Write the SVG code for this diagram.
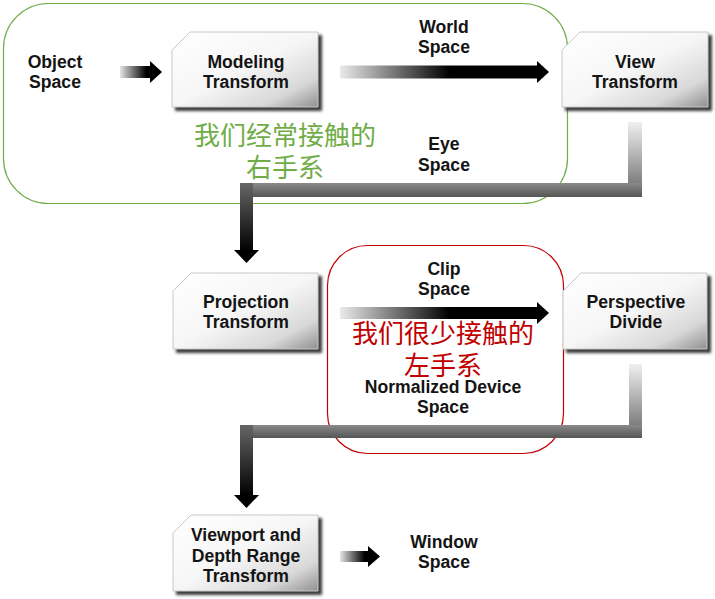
<svg xmlns="http://www.w3.org/2000/svg" width="715" height="599" viewBox="0 0 715 599">
<style>
.lbl{font-family:"Liberation Sans",Arial,sans-serif;font-weight:bold;font-size:17.6px;fill:#141414;text-anchor:middle}
.cn{font-family:"Noto Sans CJK SC",sans-serif;font-size:26px;text-anchor:middle}
.box{fill:url(#boxg);stroke:#c8c8c8;stroke-width:1}
.shadow{fill:#3a3a3a;filter:url(#blur)}
</style>
<defs>
<linearGradient id="boxg" x1="0" y1="0" x2="1" y2="1">
<stop offset="0" stop-color="#ffffff"/>
<stop offset="0.5" stop-color="#f6f6f6"/>
<stop offset="0.8" stop-color="#d8d8d8"/>
<stop offset="1" stop-color="#909090"/>
</linearGradient>
<linearGradient id="hfade" x1="0" y1="0" x2="1" y2="0">
<stop offset="0" stop-color="#000" stop-opacity="0.08"/>
<stop offset="0.55" stop-color="#000" stop-opacity="1"/>
<stop offset="1" stop-color="#000"/>
</linearGradient>
<linearGradient id="hfadeShort" x1="0" y1="0" x2="1" y2="0">
<stop offset="0" stop-color="#000" stop-opacity="0.1"/>
<stop offset="0.85" stop-color="#000"/>
<stop offset="1" stop-color="#000"/>
</linearGradient>
<linearGradient id="vfadeTop" x1="0" y1="0" x2="0" y2="1">
<stop offset="0" stop-color="#f0f0f0"/>
<stop offset="1" stop-color="#666"/>
</linearGradient>
<linearGradient id="vdark" x1="0" y1="0" x2="0" y2="1">
<stop offset="0" stop-color="#666"/>
<stop offset="1" stop-color="#000"/>
</linearGradient>
<linearGradient id="hbar" x1="0" y1="0" x2="0" y2="1">
<stop offset="0" stop-color="#8a8a8a"/>
<stop offset="1" stop-color="#555"/>
</linearGradient>
<filter id="blur" x="-10%" y="-10%" width="130%" height="130%">
<feGaussianBlur stdDeviation="1.5"/>
</filter>
</defs>

<!-- highlight regions -->
<rect id="region-right" x="3.5" y="3.5" width="564" height="200" rx="45" ry="45" fill="none" stroke="#70ad47" stroke-width="1.2"/>
<rect id="region-left" x="327.5" y="245.5" width="236" height="208" rx="40" ry="40" fill="none" stroke="#c00000" stroke-width="1.2"/>

<g id="connectors">
<!-- Object -> Modeling -->
<rect x="120" y="66" width="31" height="12" fill="url(#hfadeShort)"/>
<polygon points="150,61 150,83 162,72" fill="#000"/>
<!-- Modeling -> View (World Space) -->
<rect x="340" y="65.5" width="199" height="13" fill="url(#hfade)"/>
<polygon points="537,61 537,83 549,72" fill="#000"/>
<!-- View -> Projection (Eye Space) -->
<rect x="628" y="122" width="14" height="75" fill="url(#vfadeTop)"/>
<rect x="240" y="183" width="402" height="14" fill="url(#hbar)"/>
<rect x="240" y="183" width="13" height="68" fill="url(#vdark)"/>
<polygon points="234,250 259,250 246.5,263" fill="#000"/>
<!-- Projection -> Perspective (Clip Space) -->
<rect x="340" y="307" width="199" height="12" fill="url(#hfade)"/>
<polygon points="537,302 537,324 549,313" fill="#000"/>
<!-- Perspective -> Viewport (NDC) -->
<rect x="629" y="364" width="13" height="74" fill="url(#vfadeTop)"/>
<rect x="240" y="425" width="402" height="13" fill="url(#hbar)"/>
<rect x="240" y="425" width="13" height="71" fill="url(#vdark)"/>
<polygon points="234,495 259,495 246.5,508" fill="#000"/>
<!-- Viewport -> Window -->
<rect x="340" y="551" width="29" height="11" fill="url(#hfadeShort)"/>
<polygon points="368,546 368,567 380,556.5" fill="#000"/>
</g>

<g id="object-space">
<text class="lbl" x="55" y="68">Object</text>
<text class="lbl" x="55" y="88">Space</text>
</g>

<g id="modeling-transform">
<polygon class="shadow" points="193,35 322,35 322,111 175,111 175,53"/>
<polygon class="box" points="190,32 318,32 318,107 172,107 172,50"/>
<text class="lbl" x="246" y="68">Modeling</text>
<text class="lbl" x="246" y="88">Transform</text>
</g>

<g id="world-space">
<text class="lbl" x="444" y="33">World</text>
<text class="lbl" x="444" y="53">Space</text>
</g>

<g id="view-transform">
<polygon class="shadow" points="583,35 712,35 712,111 565,111 565,53"/>
<polygon class="box" points="580,32 708,32 708,107 562,107 562,50"/>
<text class="lbl" x="635" y="68">View</text>
<text class="lbl" x="635" y="88">Transform</text>
</g>

<g id="eye-space">
<text class="lbl" x="444" y="150">Eye</text>
<text class="lbl" x="444" y="171">Space</text>
</g>

<g id="note-right">
<text class="cn" x="285" y="145" fill="#70ad47">我们经常接触的</text>
<text class="cn" x="285" y="177" fill="#70ad47">右手系</text>
</g>

<g id="projection-transform">
<polygon class="shadow" points="194,276 322,276 322,353 176,353 176,294"/>
<polygon class="box" points="191,273 318,273 318,349 173,349 173,291"/>
<text class="lbl" x="246" y="308">Projection</text>
<text class="lbl" x="246" y="328">Transform</text>
</g>

<g id="clip-space">
<text class="lbl" x="444" y="275">Clip</text>
<text class="lbl" x="444" y="295">Space</text>
</g>

<g id="perspective-divide">
<polygon class="shadow" points="584,276 711,276 711,353 566,353 566,294"/>
<polygon class="box" points="581,273 707,273 707,349 563,349 563,291"/>
<text class="lbl" x="636" y="308">Perspective</text>
<text class="lbl" x="636" y="328">Divide</text>
</g>

<g id="note-left">
<text class="cn" x="443" y="343" fill="#c00000">我们很少接触的</text>
<text class="cn" x="443" y="375" fill="#c00000">左手系</text>
</g>

<g id="ndc-space">
<text class="lbl" x="443" y="393">Normalized Device</text>
<text class="lbl" x="443" y="413">Space</text>
</g>

<g id="viewport-transform">
<polygon class="shadow" points="194,518 322,518 322,595 176,595 176,536"/>
<polygon class="box" points="191,515 318,515 318,591 173,591 173,533"/>
<text class="lbl" x="246" y="541">Viewport and</text>
<text class="lbl" x="246" y="562">Depth Range</text>
<text class="lbl" x="246" y="582">Transform</text>
</g>

<g id="window-space">
<text class="lbl" x="444" y="548">Window</text>
<text class="lbl" x="444" y="568">Space</text>
</g>
</svg>
